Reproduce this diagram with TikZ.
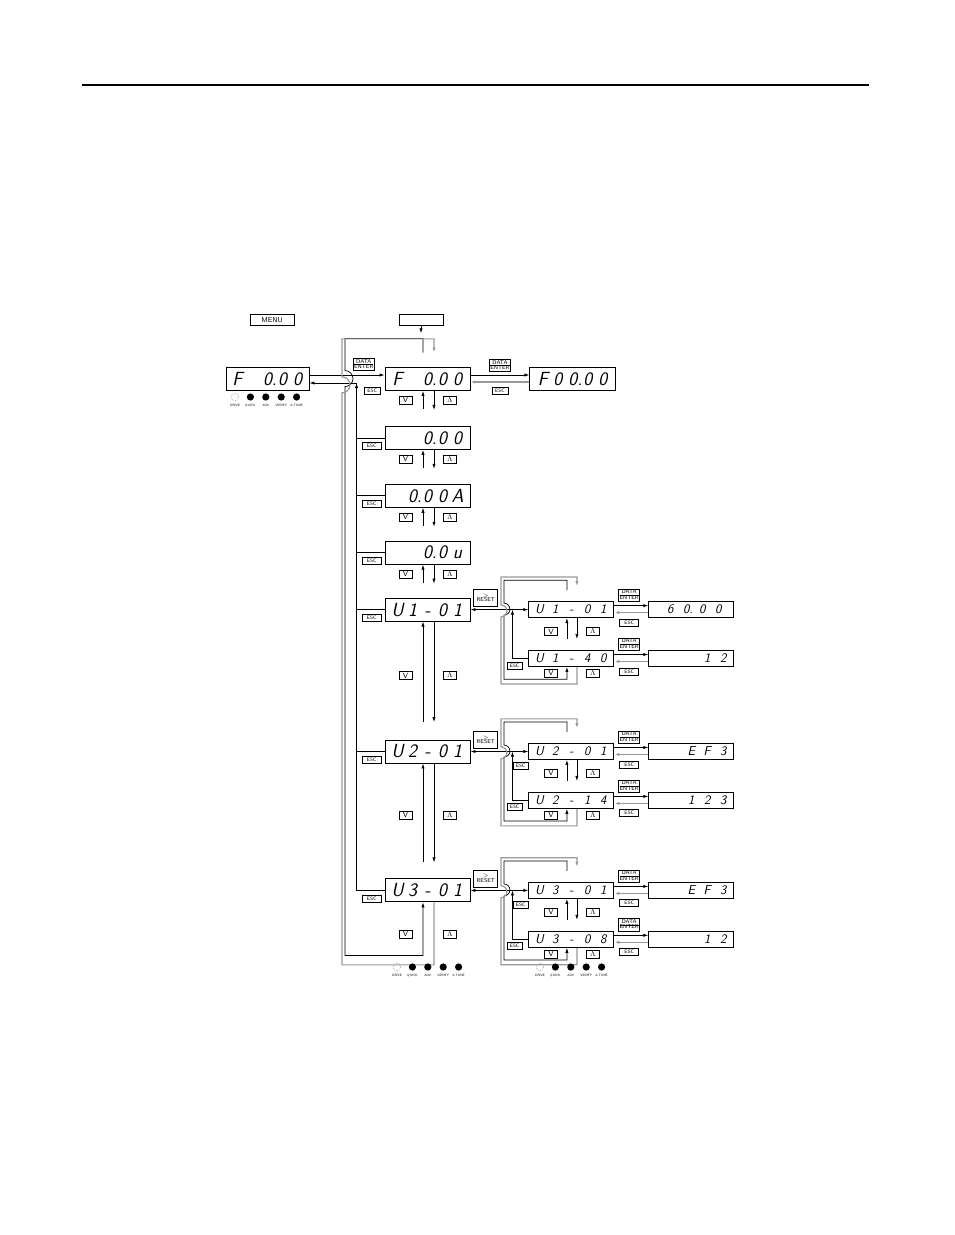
\documentclass[tikz,border=0pt]{standalone}
\usepackage{amsmath,amssymb}
\usepackage{xcolor}
\usepackage{tikz}
\usetikzlibrary{positioning,arrows.meta,calc}
\definecolor{retgray}{gray}{0.6}
\newcommand{\sg}[1]{\makebox[15pt]{#1}}
\newcommand{\ssg}[1]{\makebox[16pt]{#1}}
\newcommand{\dotd}[1]{#1\rlap{.}}
\newcommand{\dataenter}{{\renewcommand{\arraystretch}{0.7}%
  \begin{tabular}{@{}c@{}}DATA\\\hline ENTER\end{tabular}}}
\newcommand{\ledrow}[2]{% DRIVE lamp at (#1,#2), then the four others
  \draw[retgray, densely dotted, line width=0.6pt] (#1,#2) circle[radius=3.8pt];
  \foreach \k in {1,...,4} \fill (#1+\k*15.4,#2) circle[radius=3.6pt];
  \foreach \lbl [count=\k from 0] in {DRIVE,QUICK,ADV,VERIFY,A.TUNE}
    \node[ledtxt] at (#1+\k*15.4,#2+8.5) {\lbl};}

\begin{document}
\begin{tikzpicture}[x=1pt, y=-1pt,
  disp/.style={draw, line width=0.9pt, minimum width=85pt, minimum height=23pt,
               inner sep=0pt, font=\fontsize{19}{19}\selectfont\sffamily\slshape},
  subdisp/.style={disp, minimum height=16pt,
               font=\fontsize{13}{13}\selectfont\sffamily\slshape},
  key/.style={draw, line width=0.7pt, fill=white, inner sep=0.6pt,
              font=\fontsize{5}{5}\selectfont\sffamily},
  esc/.style={key, minimum width=19pt, minimum height=7pt, inner sep=0pt},
  updown/.style={key, minimum width=13pt, minimum height=8pt, inner sep=0pt,
              font=\fontsize{7.5}{7.5}\selectfont\sffamily},
  enter/.style={key, inner sep=0.8pt, font=\fontsize{5.6}{5.6}\selectfont\sffamily},
  reset/.style={key, minimum width=24pt, minimum height=17pt, align=center,
              font=\fontsize{5.6}{5.6}\selectfont\sffamily},
  ledtxt/.style={inner sep=0pt, font=\fontsize{3.2}{3.2}\selectfont\sffamily},
  wire/.style={line width=0.7pt},
  arr/.style={wire, -{Latex[length=5pt,width=3.2pt]}},
  twoway/.style={wire, {Latex[length=5pt,width=3.2pt]}-{Latex[length=5pt,width=3.2pt]}},
  ret/.style={line width=1.2pt, retgray}
]
\useasboundingbox (0,0) rectangle (954,1235);
\draw[line width=1.3pt] (82,85) -- (869,85);
% keys above the panel
\node[key, minimum width=44pt, minimum height=11pt, font=\fontsize{7}{7}\selectfont\sffamily]
  (menu) at (272,320) {MENU};
\node[key, minimum width=44pt, minimum height=11pt] (blank) at (421,320) {};

% displays
\node[disp, minimum width=83pt] (ld) at (267.5,379) {\sg{F}\sg{}\sg{\dotd0}\sg{0}\sg{0}};
\node[disp] (f0) at (427.5,379) {\sg{F}\sg{}\sg{\dotd0}\sg{0}\sg{0}};
\node[disp, minimum width=86pt, right=59pt of f0] (fz) {\sg{F}\sg{0}\sg{\dotd0}\sg{0}\sg{0}};
\node[disp, below=35pt of f0] (d1) {\sg{}\sg{}\sg{\dotd0}\sg{0}\sg{0}};
\node[disp, below=34pt of d1] (d2) {\sg{}\sg{\dotd0}\sg{0}\sg{0}\sg{A}};
\node[disp, below=33pt of d2] (d3) {\sg{}\sg{}\sg{\dotd0}\sg{0}\sg{u}};
\node[disp, below=33pt of d3] (u1) {\sg{U}\sg{1}\sg{-}\sg{0}\sg{1}};
\node[disp, below=118pt of u1] (u2) {\sg{U}\sg{2}\sg{-}\sg{0}\sg{1}};
\node[disp, below=115pt of u2] (u3) {\sg{U}\sg{3}\sg{-}\sg{0}\sg{1}};
% monitor sub displays
\node[subdisp, right=58pt of u1] (s1a) {\ssg{U}\ssg{1}\ssg{-}\ssg{0}\ssg{1}};
\node[subdisp, below=32pt of s1a] (s1b) {\ssg{U}\ssg{1}\ssg{-}\ssg{4}\ssg{0}};
\node[subdisp, right=34pt of s1a] (v1a) {\hspace{6pt}\ssg{6}\ssg{\dotd0}\ssg{0}\ssg{0}\hspace{2pt}};
\node[subdisp, right=34pt of s1b] (v1b) {\ssg{}\ssg{}\ssg{}\ssg{1}\ssg{2}};
\node[subdisp, right=58pt of u2] (s2a) {\ssg{U}\ssg{2}\ssg{-}\ssg{0}\ssg{1}};
\node[subdisp, below=32pt of s2a] (s2b) {\ssg{U}\ssg{2}\ssg{-}\ssg{1}\ssg{4}};
\node[subdisp, right=34pt of s2a] (v2a) {\ssg{}\ssg{}\ssg{E}\ssg{F}\ssg{3}};
\node[subdisp, right=34pt of s2b] (v2b) {\ssg{}\ssg{}\ssg{1}\ssg{2}\ssg{3}};
\node[subdisp, right=58pt of u3] (s3a) {\ssg{U}\ssg{3}\ssg{-}\ssg{0}\ssg{1}};
\node[subdisp, below=32pt of s3a] (s3b) {\ssg{U}\ssg{3}\ssg{-}\ssg{0}\ssg{8}};
\node[subdisp, right=34pt of s3a] (v3a) {\ssg{}\ssg{}\ssg{E}\ssg{F}\ssg{3}};
\node[subdisp, right=34pt of s3b] (v3b) {\ssg{}\ssg{}\ssg{}\ssg{1}\ssg{2}};

% panel entry and F row
\coordinate (fmid) at ($(f0.east)!0.5!(fz.west)$);
\coordinate (escbus) at ($(f0.west)+(-28,4)$);
\node[enter, above left=8pt and 10pt of f0.west] (ment) {\dataenter};
\node[esc, minimum width=16pt, left=4pt of f0.south west] (f0esc) {ESC};
\node[enter, above=7pt of fmid] (fent) {\dataenter};
\node[esc, minimum width=16pt, below=8pt of fmid] (fesc) {ESC};
\draw[arr] (blank.south) -- ++(0,7.5);
\draw[arr] ([yshift=4pt]ld.east) -- ([yshift=4pt]ld.east -| f0.west);
\draw[arr] (escbus) -- (escbus -| ld.east);
\draw[arr] ([yshift=4pt]f0.east) -- ([yshift=4pt]f0.east -| fz.west);
\draw[arr, ret] ([yshift=-3pt]fz.west) -- ([yshift=-3pt]fz.west -| f0.east);

% main column keys and arrows
\foreach \n in {f0,d1,d2,d3}{
  \node[updown, below left=5pt and 15pt of \n.south] (dn\n) {V};
  \node[updown, below right=5pt and 15.5pt of \n.south] (up\n) {$\Lambda$};
  \draw[arr] ([xshift=-4.5pt,yshift=-18pt]\n.south) -- ([xshift=-4.5pt]\n.south);
  \draw[arr] ([xshift=6.5pt]\n.south) -- ([xshift=6.5pt,yshift=-19pt]\n.south);
}
\foreach \n in {d1,d2,d3,u1,u2,u3}
  \node[esc, anchor=south east] (esc\n) at ([xshift=-3pt]\n.south west) {ESC};
\node[updown, below left=49.5pt and 15pt of u1.south] (dnu1) {V};
\node[updown, below right=49.5pt and 15.5pt of u1.south] (upu1) {$\Lambda$};
\node[updown, below left=47.5pt and 15pt of u2.south] (dnu2) {V};
\node[updown, below right=47.5pt and 15.5pt of u2.south] (upu2) {$\Lambda$};
\node[updown, below left=27.5pt and 15pt of u3.south] (dnu3) {V};
\node[updown, below right=27.5pt and 15.5pt of u3.south] (upu3) {$\Lambda$};
\draw[arr] ([xshift=-4.5pt,yshift=17.5pt]u2.north) -- ([xshift=-4.5pt]u1.south);
\draw[arr] ([xshift=6.5pt]u1.south) -- ([xshift=6.5pt,yshift=17.5pt]u2.north);
\draw[arr] ([xshift=-4.5pt,yshift=16pt]u3.north) -- ([xshift=-4.5pt]u2.south);
\draw[arr] ([xshift=6.5pt]u2.south) -- ([xshift=6.5pt,yshift=16pt]u3.north);
% ESC return bus
\draw[arr] (u3.west) -| (escbus);
\foreach \n in {d1,d2,d3,u1,u2} \draw[wire] (\n.west) -- (\n.west -| escbus);
% wrap-around loops, hopping over the entry lines
\draw[arr] ([xshift=-4.5pt,yshift=14.5pt]f0.north) -- ++(0,-14) -- ++(-78,0) -- ++(0,32)
  arc[start angle=-90, end angle=90, radius=8] -- ++(0,569) -- ++(78,0)
  -- ([xshift=-4.5pt]u3.south);
\draw[arr, ret] ([xshift=6.5pt]u3.south) -- ++(0,62.5) -- ++(-92,0) -- ++(0,-572)
  arc[start angle=90, end angle=-90, radius=8] -- ++(0,-38) -- ++(92,0)
  -- ([xshift=6.5pt,yshift=14.5pt]f0.north);

% monitor groups
\foreach \g in {1,2,3}{
  \node[reset, above right=3pt and 3pt of u\g.east] (rst\g) {$>$\\[-1pt]RESET};
  \draw[twoway] (u\g.east) -- (s\g a.west);
  \coordinate (e\g) at ([xshift=-16pt]s\g a.west);
  \draw[arr] (s\g b.west) -| (e\g);
  \node[esc, minimum width=15pt, below left=3pt and 6pt of s\g b.west] (escl\g) {ESC};
  \foreach \r in {a,b}{
    \node[enter, above right=8pt and 4pt of s\g\r.east] (ent\g\r) {\dataenter};
    \node[esc, below right=9pt and 5pt of s\g\r.east] (esc\g\r) {ESC};
    \draw[arr] ([yshift=4pt]s\g\r.east) -- ([yshift=4pt]s\g\r.east -| v\g\r.west);
    \draw[arr, ret] ([yshift=-3pt]v\g\r.west) -- ([yshift=-3pt]v\g\r.west -| s\g\r.east);
  }
  \node[updown, below left=9pt and 13.5pt of s\g a.south] (dn\g a) {V};
  \node[updown, below right=9pt and 14.5pt of s\g a.south] (up\g a) {$\Lambda$};
  \node[updown, below left=2pt and 13.5pt of s\g b.south] (dn\g b) {V};
  \node[updown, below right=2pt and 14.5pt of s\g b.south] (up\g b) {$\Lambda$};
  \draw[arr] ([xshift=-4.5pt,yshift=-21pt]s\g a.south) -- ([xshift=-4.5pt]s\g a.south);
  \draw[arr] ([xshift=5.5pt]s\g a.south) -- ([xshift=5.5pt,yshift=-21pt]s\g a.south);
  \draw[arr] ([xshift=-4.5pt,yshift=11pt]s\g a.north) -- ++(0,-10) -- ++(-63,0) -- ++(0,23)
    arc[start angle=-90, end angle=90, radius=6] -- ++(0,64) -- ++(63,0)
    -- ([xshift=-4.5pt]s\g b.south);
  \draw[arr, ret] ([xshift=5.5pt]s\g b.south) -- ++(0,17) -- ++(-76,0) -- ++(0,-67)
    arc[start angle=90, end angle=-90, radius=6] -- ++(0,-28) -- ++(76,0)
    -- ([xshift=5.5pt,yshift=15pt]s\g a.north);
}
\node[esc, minimum width=15pt, below left=2pt and 0pt of s2a.south west] (escu2) {ESC};
\node[esc, minimum width=15pt, below left=2pt and 0pt of s3a.south west] (escu3) {ESC};

% status lamps
\ledrow{235}{397}
\ledrow{397}{967}
\ledrow{540}{967}
\end{tikzpicture}
\end{document}
